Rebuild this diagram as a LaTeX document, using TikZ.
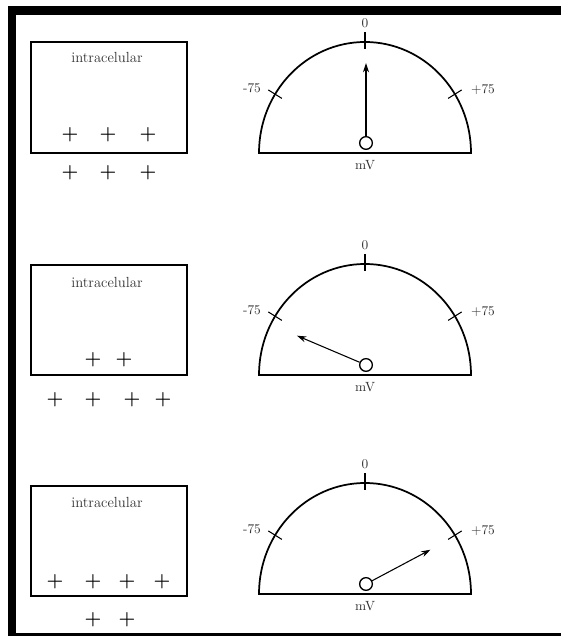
\documentclass[tikz,border=0pt]{standalone}
\usepackage{tikz}
\usetikzlibrary{arrows.meta, positioning, calc}

\begin{document}
\begin{tikzpicture}[
    x=0.75pt, y=0.75pt,
    >={Stealth[length=7pt, width=4.5pt]},
    cellbox/.style={draw, line width=1.3pt, minimum width=117pt, minimum height=83pt, inner sep=0pt},
    celltext/.style={font=\fontsize{11}{13}\selectfont, text=black!80, inner sep=0pt},
    charge/.style={font=\Large\bfseries, inner sep=0pt},
    dial/.style={line width=1.3pt},
    tickmark/.style={line width=0.8pt},
    dialtext/.style={font=\normalsize, text=black!80, inner sep=0pt},
    pivot/.style={draw, circle, line width=1pt, minimum size=9.5pt, inner sep=0pt},
    needle/.style={line width=0.8pt},
]
    \useasboundingbox (0,0) rectangle (561,638);

    % Frame
    \fill (8,2) rectangle (16,632);
    \fill (8,623) rectangle (561,632);
    \fill (8,2) rectangle (561,5);

    % Cell 1
    \node[cellbox] (box1) at (109,540.5) {};
    \node[celltext] (lab1) at (107,581) {intracelular};
    \foreach \x [count=\k] in {70,108,148}
        \node[charge] (in1\k) at (\x,503) {+};
    \foreach \x [count=\k] in {70,108,148}
        \node[charge] (out1\k) at (\x,465) {+};

    % Cell 2
    \node[cellbox] (box2) at (109,318) {};
    \node[celltext] (lab2) at (107,356) {intracelular};
    \foreach \x [count=\k] in {93,124}
        \node[charge] (in2\k) at (\x,278) {+};
    \foreach \x [count=\k] in {55,93,132,163}
        \node[charge] (out2\k) at (\x,238) {+};

    % Cell 3
    \node[cellbox] (box3) at (109,97) {};
    \node[celltext] (lab3) at (107,136) {intracelular};
    \foreach \x [count=\k] in {55,93,127,162}
        \node[charge] (in3\k) at (\x,56) {+};
    \foreach \x [count=\k] in {93,127}
        \node[charge] (out3\k) at (\x,18) {+};

    % Voltmeters
    \foreach \i/\gy/\na/\nl in {1/485/90/80, 2/263/157/75, 3/44/28/73} {
        \coordinate (c\i) at (365,\gy);
        \draw[dial] ($(c\i)+(-106,0)$) arc[start angle=180, end angle=0, x radius=106, y radius=111] -- cycle;
        \draw[tickmark] ($(c\i)+(0,104)$) -- ($(c\i)+(0,121)$);
        \draw[tickmark] ($(c\i)+(148:98 and 103)$) -- ($(c\i)+(148:114 and 119)$);
        \draw[tickmark] ($(c\i)+(32:98 and 103)$) -- ($(c\i)+(32:114 and 119)$);
        \node[dialtext] (zero\i) at ($(c\i)+(0,130)$) {0};
        \node[dialtext] (neg\i) at ($(c\i)+(-113,65)$) {-75};
        \node[dialtext] (pos\i) at ($(c\i)+(118,63)$) {+75};
        \node[dialtext] (unit\i) at ($(c\i)+(0,-12)$) {mV};
        \node[pivot] (p\i) at ($(c\i)+(1,10)$) {};
        \coordinate (t\i) at ($(p\i)+(\na:\nl)$);
        \draw[needle, ->] (p\i) -- (t\i);
    }
\end{tikzpicture}
\end{document}
